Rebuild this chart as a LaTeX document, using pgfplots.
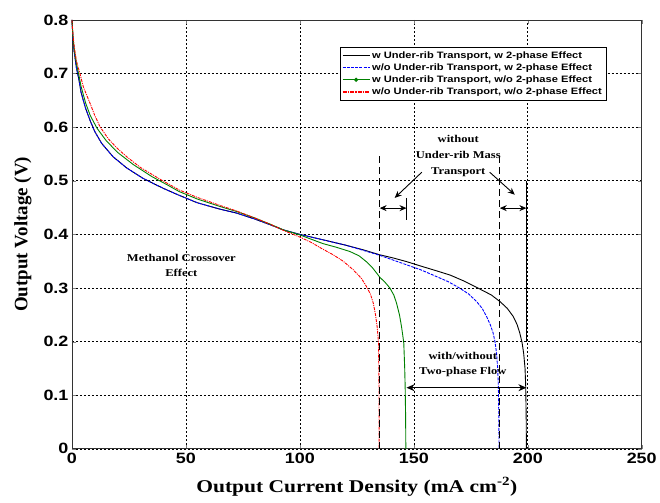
\documentclass[border=0pt]{standalone}
\usepackage{fontspec}
\usepackage{pgfplots}
\pgfplotsset{compat=1.18}
\usetikzlibrary{arrows.meta}
\setmainfont{Liberation Serif}
\newfontfamily\lsans{Liberation Sans}[FakeStretch=1.2]
\newfontfamily\lserif{Liberation Serif}[FakeStretch=1.2]
\definecolor{mgreen}{rgb}{0,0.5,0}
\begin{document}
\begin{tikzpicture}[x=1bp,y=1bp]
\begin{axis}[
  width=570bp, height=429bp, scale only axis,
  xmin=0, xmax=250, ymin=0, ymax=0.8,
  xtick={0,50,...,250}, ytick={0,0.1,...,0.8},
  yticklabel style={/pgf/number format/fixed,/pgf/number format/precision=1},
  /pgf/number format/assume math mode=true,
  tick label style={font=\lsans\bfseries\fontsize{15}{15}\selectfont},
  xticklabel style={yshift=-1bp},
  tick align=inside, major tick length=4bp,
  grid=major,
  major grid style={black, line width=0.6bp, dash pattern=on 2bp off 2bp},
  axis line style={black!80, line width=0.8bp},
  xlabel={Output Current Density (mA cm\textsuperscript{-2})},
  ylabel={Output Voltage (V)},
  xlabel style={font=\lserif\bfseries\fontsize{18}{18}\selectfont, at={(axis description cs:0.5,-0.0886)}, anchor=center},
  ylabel style={font=\bfseries\fontsize{19}{19}\selectfont, at={(axis description cs:-0.086,0.5)}, anchor=center, rotate=0},
  legend style={at={(axis description cs:0.470,0.937)}, anchor=north west,
    draw=black, line width=0.6bp, fill=white,
    font=\lsans\bfseries\fontsize{9.3}{11}\selectfont,
    row sep=0bp, inner xsep=2bp, inner ysep=2bp},
  legend cell align=left,
  legend image code/.code={\draw[#1] (0bp,0bp) -- (27bp,0bp);},
  clip=false,
]
\addplot[black, line width=0.9bp] coordinates {
(0,0.80)(0.5,0.76)(1,0.74)(2,0.71)(3,0.69)(4,0.665)(6,0.635)(8,0.612)(10,0.592)(13,0.57)(18,0.545)(24,0.524)(31,0.505)(40,0.486)(47,0.473)(55,0.459)(65,0.447)(72,0.44)(80,0.429)(87,0.418)(93,0.408)(100,0.400)(110,0.390)(120,0.380)(128,0.371)(135,0.362)(141,0.356)(147,0.349)(153,0.341)(160,0.332)(166,0.324)(172,0.313)(179,0.298)(184,0.287)(188,0.274)(191,0.262)(193.6,0.247)(195.3,0.232)(196.5,0.216)(197.5,0.198)(198.2,0.178)(198.8,0.15)(199.1,0.116)(199.3,0.06)(199.4,0)};
\addlegendentry{w Under-rib Transport, w 2-phase Effect}
\addplot[blue, line width=0.9bp, dash pattern=on 3bp off 1.2bp] coordinates {
(0,0.80)(0.5,0.76)(1,0.74)(2,0.71)(3,0.69)(4,0.665)(6,0.635)(8,0.612)(10,0.592)(13,0.57)(18,0.545)(24,0.524)(31,0.505)(40,0.486)(47,0.473)(55,0.459)(65,0.447)(72,0.44)(80,0.429)(87,0.418)(93,0.408)(100,0.400)(110,0.390)(120,0.380)(128,0.370)(135,0.361)(141,0.352)(147,0.343)(153,0.334)(158.5,0.324)(165,0.312)(170,0.300)(174,0.289)(177.5,0.275)(180,0.262)(181.9,0.247)(183.5,0.232)(184.8,0.216)(185.7,0.198)(186.3,0.178)(186.8,0.15)(187.1,0.116)(187.3,0.06)(187.4,0)};
\addlegendentry{w/o Under-rib Transport, w 2-phase Effect}
\addplot[mgreen, line width=0.9bp, legend image code/.code={\draw[draw=mgreen, line width=1bp] (0bp,0bp) -- (27bp,0bp); \fill[fill=mgreen] (13.5bp,0bp) circle (1.6bp);}] coordinates {
(0,0.80)(0.5,0.765)(1,0.745)(2,0.718)(3,0.698)(4,0.676)(6,0.645)(8,0.622)(11,0.598)(15,0.575)(20,0.553)(27,0.530)(35,0.508)(42,0.492)(47,0.480)(55,0.466)(65,0.452)(72,0.443)(80,0.431)(87,0.419)(93,0.408)(100,0.399)(105,0.391)(110,0.383)(116,0.376)(122,0.368)(126,0.360)(129.2,0.349)(132,0.337)(135.1,0.320)(137.5,0.310)(139.5,0.300)(141.2,0.287)(142.4,0.272)(143.7,0.25)(144.6,0.228)(145.2,0.21)(145.6,0.197)(146,0.15)(146.2,0.116)(146.4,0.06)(146.5,0)};
\addlegendentry{w Under-rib Transport, w/o 2-phase Effect}
\addplot[red, line width=0.9bp, dash pattern=on 3bp off 1bp on 1bp off 1bp, legend image code/.code={\draw[draw=red, line width=1.1bp, dash pattern=on 4bp off 1bp on 1.5bp off 1bp] (0bp,0bp) -- (27bp,0bp);}] coordinates {
(0,0.80)(0.5,0.77)(1,0.75)(2,0.723)(3.5,0.70)(5,0.675)(7.9,0.645)(10,0.622)(12.3,0.601)(16,0.578)(20,0.560)(24,0.545)(30,0.525)(38.6,0.503)(47,0.483)(55,0.469)(65,0.454)(72,0.444)(80,0.431)(87,0.419)(93,0.407)(100,0.395)(105,0.385)(109,0.375)(114.6,0.362)(119,0.350)(123.4,0.334)(127,0.318)(129.2,0.303)(131,0.288)(132.2,0.272)(133.2,0.25)(133.9,0.228)(134.3,0.21)(134.5,0.197)(134.7,0.12)(134.8,0)};
\addlegendentry{w/o Under-rib Transport, w/o 2-phase Effect}
% bounding box
\path (rel axis cs:-0.1263,-0.1259) rectangle (rel axis cs:1.0316,1.0466);
% annotation lines
\draw[black, line width=0.9bp, dash pattern=on 7bp off 4bp] (axis cs:134.9,0) -- (axis cs:134.9,0.552);
\draw[black, line width=0.9bp, dash pattern=on 7bp off 4bp] (axis cs:187.6,0) -- (axis cs:187.6,0.552);
\draw[black, line width=0.9bp] (axis cs:199.4,0.2) -- (axis cs:199.4,0.5);
\draw[black, line width=0.9bp] (axis cs:146.8,0.427) -- (axis cs:146.8,0.468);
\draw[black, line width=0.9bp, {Stealth[length=7bp,width=6bp]}-{Stealth[length=7bp,width=6bp]}] (axis cs:135,0.449) -- (axis cs:146.8,0.449);
\draw[black, line width=0.9bp, {Stealth[length=7bp,width=6bp]}-{Stealth[length=7bp,width=6bp]}] (axis cs:187.7,0.449) -- (axis cs:199.4,0.449);
\draw[black, line width=0.9bp, -{Stealth[length=7bp,width=6bp]}] (axis cs:153.5,0.516) -- (axis cs:141.6,0.468);
\draw[black, line width=0.9bp, -{Stealth[length=7bp,width=6bp]}] (axis cs:183.3,0.516) -- (axis cs:194.3,0.474);
\draw[black, line width=0.9bp, {Stealth[length=8bp,width=7bp]}-{Stealth[length=8bp,width=7bp]}] (axis cs:146.8,0.114) -- (axis cs:199.4,0.114);
% text
\node[font=\lserif\bfseries\fontsize{10.5}{15}\selectfont, align=center] at (axis cs:48,0.342) {Methanol Crossover\\Effect};
\node[font=\lserif\bfseries\fontsize{10.5}{16}\selectfont, align=center] at (axis cs:169.5,0.546) {without\\Under-rib Mass\\Transport};
\node[font=\lserif\bfseries\fontsize{10.5}{15}\selectfont, align=center] at (axis cs:171.5,0.158) {with/without\\Two-phase Flow};
\end{axis}
\end{tikzpicture}
\end{document}
